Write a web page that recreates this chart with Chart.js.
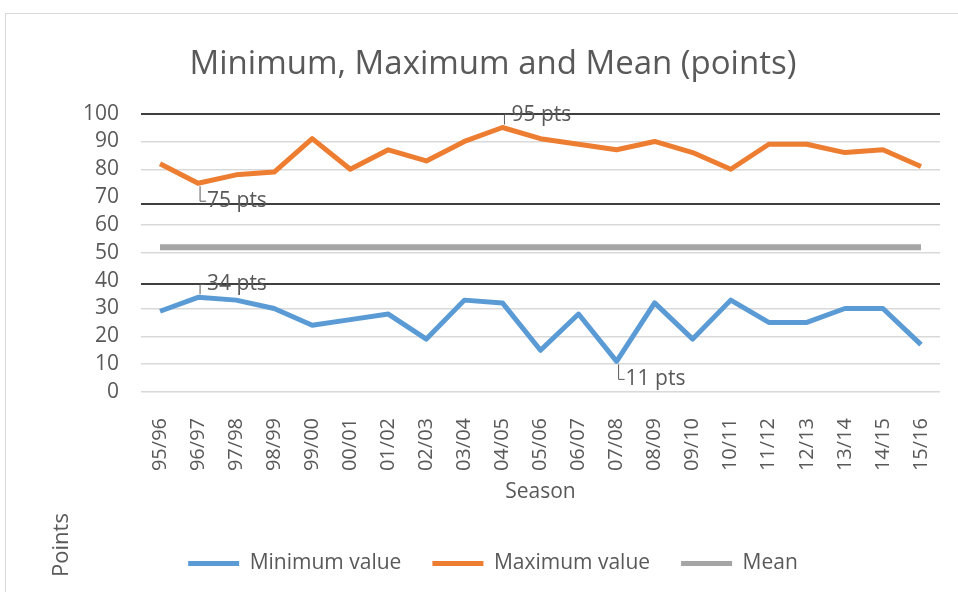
<!DOCTYPE html>
<html>
<head>
<meta charset="utf-8">
<script src="https://cdn.jsdelivr.net/npm/chart.js@4.4.1/dist/chart.umd.min.js"></script>
<style>
  html, body { margin: 0; padding: 0; background: #fff; overflow: hidden; }
  #frame { position: absolute; left: 5px; top: 13px; width: 960px; height: 600px;
           border-top: 1px solid #d9d9d9; border-left: 1px solid #d9d9d9; }
  #wrap { position: absolute; left: 0; top: 0; width: 958px; height: 592px; }
</style>
</head>
<body>
<div id="frame"></div>
<div id="wrap"><canvas id="chart"></canvas></div>
<script>
const seasons = ['95/96', '96/97', '97/98', '98/99', '99/00', '00/01', '01/02', '02/03', '03/04', '04/05',
  '05/06', '06/07', '07/08', '08/09', '09/10', '10/11', '11/12', '12/13', '13/14', '14/15', '15/16'];
const minValues = [29, 34, 33, 30, 24, 26, 28, 19, 33, 32, 15, 28, 11, 32, 19, 33, 25, 25, 30, 30, 17];
const maxValues = [82, 75, 78, 79, 91, 80, 87, 83, 90, 95, 91, 89, 87, 90, 86, 80, 89, 89, 86, 87, 81];
const meanValues = [52, 52, 52, 52, 52, 52, 52, 52, 52, 52, 52, 52, 52, 52, 52, 52, 52, 52, 52, 52, 52];
const yTicks = [0, 10, 20, 30, 40, 50, 60, 70, 80, 90, 100];
// dark horizontal rules as they sit in the picture (in axis units)
const darkLines = [100, 67.7, 38.8];
const callouts = [
  { series: 1, index: 9, text: '95 pts', side: -1 },
  { series: 1, index: 1, text: '75 pts', side: 1 },
  { series: 0, index: 1, text: '34 pts', side: -1 },
  { series: 0, index: 12, text: '11 pts', side: 1 }
];

const FONT = "'Open Sans', 'Noto Sans', sans-serif";
const TEXT = '#595959';

const extras = {
  id: 'extras',
  beforeDatasetsDraw(chart) {
    const { ctx, chartArea } = chart;
    const y = chart.scales.y;
    ctx.save();
    ctx.strokeStyle = '#3f3f3f';
    ctx.lineWidth = 2;
    darkLines.forEach(v => {
      const py = Math.round(y.getPixelForValue(v));
      ctx.beginPath();
      ctx.moveTo(chartArea.left, py);
      ctx.lineTo(chartArea.right, py);
      ctx.stroke();
    });
    ctx.restore();
  },
  afterDatasetsDraw(chart) {
    const { ctx } = chart;
    ctx.save();
    ctx.font = '21px ' + FONT;
    ctx.fillStyle = TEXT;
    ctx.strokeStyle = TEXT;
    ctx.lineWidth = 1;
    ctx.textBaseline = 'middle';
    ctx.textAlign = 'left';
    callouts.forEach(c => {
      const pt = chart.getDatasetMeta(c.series).data[c.index];
      const ty = c.side < 0 ? pt.y - 13 : pt.y + 18;
      const lx = pt.x + 2;
      ctx.beginPath();
      ctx.moveTo(lx, pt.y + c.side * 3);
      ctx.lineTo(lx, ty);
      ctx.lineTo(lx + 6, ty);
      ctx.stroke();
      ctx.fillText(c.text, lx + 7, ty);
    });
    // stray axis title of the original, bottom left
    ctx.translate(62, 545);
    ctx.rotate(-Math.PI / 2);
    ctx.textAlign = 'center';
    ctx.font = '22px ' + FONT;
    ctx.fillText('Points', 0, 0);
    ctx.restore();
  }
};

new Chart(document.getElementById('chart'), {
  type: 'line',
  data: {
    labels: seasons,
    datasets: [
      { label: 'Minimum value', data: minValues, borderColor: '#5b9bd5', backgroundColor: '#5b9bd5',
        borderWidth: 5, pointRadius: 0, borderJoinStyle: 'round' },
      { label: 'Maximum value', data: maxValues, borderColor: '#ed7d31', backgroundColor: '#ed7d31',
        borderWidth: 5, pointRadius: 0, borderJoinStyle: 'round' },
      { label: 'Mean', data: meanValues, borderColor: '#a5a5a5', backgroundColor: '#a5a5a5',
        borderWidth: 6, pointRadius: 0 }
    ]
  },
  options: {
    responsive: true,
    maintainAspectRatio: false,
    animation: false,
    layout: { padding: { left: 46, right: 18, top: 0, bottom: 8 } },
    plugins: {
      title: {
        display: true,
        text: 'Minimum, Maximum and Mean (points)',
        color: TEXT,
        font: { family: FONT, size: 33, weight: 'normal' },
        padding: { top: 45, bottom: 29 }
      },
      legend: {
        position: 'bottom',
        labels: {
          color: TEXT,
          font: { family: FONT, size: 21 },
          boxWidth: 51,
          boxHeight: 5,
          padding: 31,
          generateLabels(chart) {
            return Chart.defaults.plugins.legend.labels.generateLabels(chart).map(l => {
              l.lineWidth = 0;
              return l;
            });
          }
        }
      },
      tooltip: { enabled: false }
    },
    scales: {
      x: {
        offset: true,
        afterFit(scale) {
          scale.height = 130;
          scale.paddingLeft = 0;
          scale.paddingRight = 0;
        },
        grid: { display: false, drawTicks: false },
        border: { display: false },
        ticks: { color: TEXT, font: { family: FONT, size: 20 }, minRotation: 90, maxRotation: 90, padding: 26, autoSkip: false },
        title: { display: true, text: 'Season', color: TEXT, font: { family: FONT, size: 21 }, padding: { top: 0, bottom: 17 } }
      },
      y: {
        min: 0,
        max: 100,
        afterBuildTicks(scale) { scale.ticks = yTicks.map(v => ({ value: v })); },
        afterFit(scale) { scale.width = 95; },
        grid: {
          drawTicks: false,
          lineWidth: 1.5,
          color: ctx => (ctx.tick && (ctx.tick.value === 100 || ctx.tick.value === 70 || ctx.tick.value === 40)) ? 'rgba(0,0,0,0)' : '#d9d9d9'
        },
        border: { display: false },
        ticks: { color: TEXT, font: { family: FONT, size: 21 }, padding: 22, autoSkip: false }
      }
    }
  },
  plugins: [extras]
});
</script>
</body>
</html>
